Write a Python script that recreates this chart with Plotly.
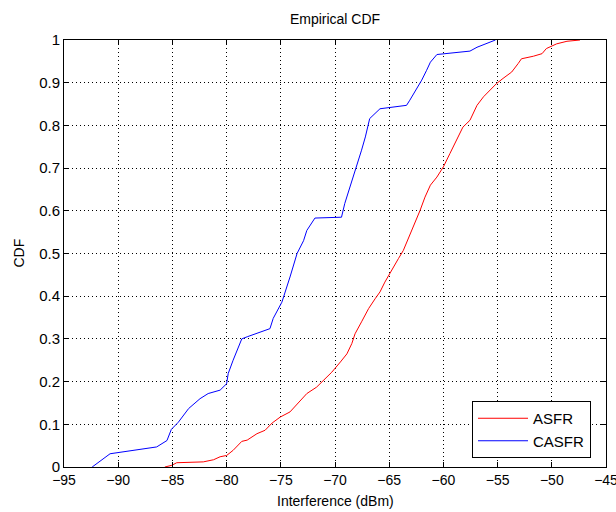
import plotly.graph_objects as go

asfr_x = [-85.7, -85.05, -84.6, -82.15, -81.2, -80.6, -80.0, -79.4, -78.6, -78.1, -77.2, -76.45,
          -75.8, -75.05, -74.15, -73.5, -72.6, -71.7, -71.1, -70.3, -69.5, -68.9, -68.45, -68.15,
          -67.55, -66.9, -66.3, -65.85, -65.4, -64.8, -64.15, -63.7, -63.4, -62.8, -62.15, -61.7,
          -61.2, -60.6, -60.0, -59.4, -58.8, -58.2, -57.55, -56.9, -56.3, -55.7, -55.1, -54.5,
          -53.7, -53.1, -52.8, -51.7, -50.9, -50.5, -49.55, -48.6, -47.4]
asfr_y = [0.0, 0.004, 0.01, 0.012, 0.017, 0.024, 0.027, 0.039, 0.06, 0.063, 0.078, 0.086,
          0.103, 0.117, 0.129, 0.148, 0.172, 0.187, 0.203, 0.222, 0.246, 0.265, 0.289, 0.312,
          0.34, 0.371, 0.394, 0.41, 0.433, 0.461, 0.488, 0.507, 0.525, 0.562, 0.601, 0.632,
          0.66, 0.679, 0.703, 0.734, 0.765, 0.796, 0.812, 0.847, 0.867, 0.882, 0.898, 0.91,
          0.925, 0.945, 0.956, 0.962, 0.968, 0.98, 0.991, 0.997, 1.0]

casfr_x = [-92.4, -90.75, -86.45, -85.5, -85.1, -84.45, -83.5, -82.45, -81.7, -80.6, -80.0,
           -79.85, -79.4, -78.6, -78.1, -76.0, -75.7, -74.9, -74.15, -73.5, -72.9, -72.6,
           -71.85, -69.4, -69.1, -68.5, -68.0, -67.55, -67.2, -66.8, -65.85, -63.4, -63.1,
           -62.45, -62.0, -61.55, -61.2, -60.6, -57.55, -56.9, -56.0, -55.2]
casfr_y = [0.0, 0.031, 0.047, 0.062, 0.088, 0.105, 0.137, 0.16, 0.172, 0.18, 0.195,
           0.219, 0.25, 0.30, 0.305, 0.324, 0.348, 0.386, 0.445, 0.50, 0.53, 0.554,
           0.583, 0.585, 0.617, 0.664, 0.703, 0.742, 0.773, 0.816, 0.839, 0.847, 0.859,
           0.886, 0.906, 0.929, 0.948, 0.966, 0.974, 0.983, 0.993, 1.0]

x_ticks = [-95, -90, -85, -80, -75, -70, -65, -60, -55, -50, -45]
y_ticks = [0, 0.1, 0.2, 0.3, 0.4, 0.5, 0.6, 0.7, 0.8, 0.9, 1]
y_tick_text = ["0", "0.1", "0.2", "0.3", "0.4", "0.5", "0.6", "0.7", "0.8", "0.9", "1"]

FAM = "Liberation Sans, Arial, sans-serif"
W, H = 616, 512

fig = go.Figure()
fig.add_trace(go.Scatter(x=asfr_x, y=asfr_y, mode="lines", name="ASFR",
                         line=dict(color="#ff0000", width=1)))
fig.add_trace(go.Scatter(x=casfr_x, y=casfr_y, mode="lines", name="CASFR",
                         line=dict(color="#0000ff", width=1)))

fig.update_layout(
    width=W, height=H,
    margin=dict(l=64, r=W - 606, t=40, b=H - 467, autoexpand=False),
    paper_bgcolor="white", plot_bgcolor="white",
    font=dict(family=FAM, size=14, color="black"),
    title=dict(text="Empirical CDF", x=335 / W, xref="container", xanchor="center",
               y=1 - 19 / H, yref="container", yanchor="middle",
               font=dict(family=FAM, size=14, color="black")),
    showlegend=True,
    legend=dict(x=(591 - 64) / 542, y=(467 - 458) / 427, xanchor="right", yanchor="bottom",
                bordercolor="black", borderwidth=1, bgcolor="white",
                font=dict(family=FAM, size=15), itemwidth=50, tracegroupgap=0,
                entrywidth=90, entrywidthmode="pixels"),
    annotations=[
        dict(text="Interference (dBm)", xref="paper", yref="paper", x=0.5,
             y=-(501 - 467) / 427, xanchor="center", yanchor="middle", showarrow=False,
             font=dict(family=FAM, size=14, color="black")),
        dict(text="CDF", xref="paper", yref="paper", x=-(64 - 18) / 542, y=0.5,
             xanchor="center", yanchor="middle", textangle=-90, showarrow=False,
             font=dict(family=FAM, size=14, color="black")),
    ],
)
grid_common = dict(ticks="inside", ticklen=5, tickcolor="black", showline=True,
                   linecolor="black", linewidth=1, mirror="ticks", showgrid=True,
                   gridcolor="black", griddash="1px,3px", gridwidth=1, zeroline=False,
                   automargin=False, ticklabeloverflow="allow")
fig.update_xaxes(range=[-95, -45], tickvals=x_ticks, tickfont=dict(family=FAM, size=14),
                 **grid_common)
fig.update_yaxes(range=[0, 1], tickvals=y_ticks, ticktext=y_tick_text,
                 tickfont=dict(family=FAM, size=15), **grid_common)

fig.write_html("out.html", config={"displayModeBar": False},
               post_script="document.body.style.margin='0';document.body.style.overflow='hidden';")
